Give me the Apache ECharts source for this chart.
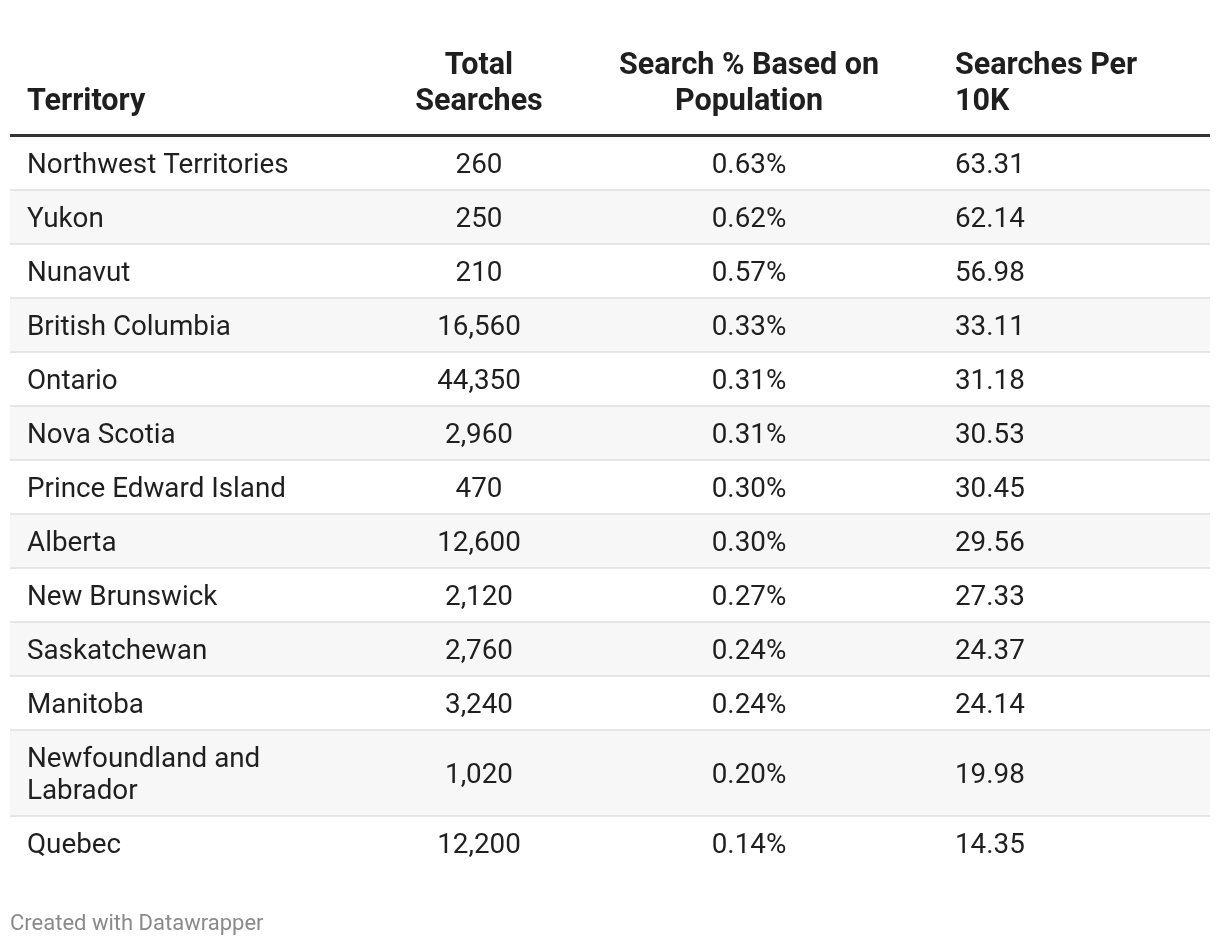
<!DOCTYPE html>
<html><head><meta charset="utf-8">
<script src="https://cdn.jsdelivr.net/npm/echarts@6/dist/echarts.min.js"></script>
<style>html,body{margin:0;padding:0;background:#fff}#main{width:1220px;height:946px}</style>
</head><body><div id="main"></div>
<script>
// ---------- DATA ----------
const territories = ['Northwest Territories','Yukon','Nunavut','British Columbia','Ontario','Nova Scotia','Prince Edward Island','Alberta','New Brunswick','Saskatchewan','Manitoba','Newfoundland and Labrador','Quebec'];
const totalSearches = [260,250,210,16560,44350,2960,470,12600,2120,2760,3240,1020,12200];
const searchPercent = [0.63,0.62,0.57,0.33,0.31,0.31,0.30,0.30,0.27,0.24,0.24,0.20,0.14];
const searchesPer10K = [63.31,62.14,56.98,33.11,31.18,30.53,30.45,29.56,27.33,24.37,24.14,19.98,14.35];
const columnHeaders = ['Territory','Total Searches','Search % Based on Population','Searches Per 10K'];
const footerText = 'Created with Datawrapper';

// ---------- LAYOUT / STYLE ----------
const FONT = 'Roboto, "Noto Sans", sans-serif';
const BODY_SIZE = 27.8, HEAD_SIZE = 30.5;
const LINE_H = 32, HEAD_LINE_H = 36, ROW_PAD = 22;
const TABLE_L = 10, TABLE_R = 1210;
// column anchors (x) and alignment, wrap widths
const cols = [
  {x: 27, align: 'left', wrap: 300},
  {x: 479, align: 'center', wrap: 150},
  {x: 749, align: 'center', wrap: 300},
  {x: 955, align: 'left', wrap: 210}
];

const mctx = document.createElement('canvas').getContext('2d');
function wrapText(text, font, maxW) {
  mctx.font = font;
  const words = text.split(' ');
  const lines = [];
  let cur = '';
  words.forEach(w => {
    const t = cur ? cur + ' ' + w : w;
    if (cur && mctx.measureText(t).width > maxW) { lines.push(cur); cur = w; }
    else cur = t;
  });
  if (cur) lines.push(cur);
  return lines;
}

const bodyFont = `${BODY_SIZE}px ${FONT}`;
const headFont = `bold ${HEAD_SIZE}px ${FONT}`;

const rowCells = territories.map((t, i) => [
  wrapText(t, bodyFont, cols[0].wrap),
  [totalSearches[i].toLocaleString('en-US')],
  [searchPercent[i].toFixed(2) + '%'],
  [searchesPer10K[i].toFixed(2)]
]);
const rowData = [];
let acc = 0;
rowCells.forEach((cells, i) => {
  const n = Math.max(...cells.map(c => c.length));
  const h = n * LINE_H + ROW_PAD;
  rowData.push([i, acc, acc + h]);
  acc += h;
});
const totalH = acc;
const headCells = columnHeaders.map((h, c) => wrapText(h, headFont, cols[c].wrap));

const GRID_TOP = 137;

const chart = echarts.init(document.getElementById('main'), null, {renderer: 'canvas'});
chart.setOption({
  animation: false,
  backgroundColor: '#ffffff',
  title: {
    text: footerText, left: 5, top: 908,
    textStyle: {fontFamily: FONT, fontSize: 22, fontWeight: 'normal', color: '#8a8a8a'}
  },
  grid: {left: 0, right: 0, top: GRID_TOP, height: totalH},
  xAxis: {type: 'value', min: 0, max: 1220, show: false},
  yAxis: {type: 'value', min: 0, max: totalH, inverse: true, show: false},
  series: [
    {
      type: 'custom', clip: false, silent: true,
      data: rowData,
      renderItem(params, api) {
        const i = api.value(0);
        const y0 = api.coord([0, api.value(1)])[1];
        const y1 = api.coord([0, api.value(2)])[1];
        const xL = api.coord([TABLE_L, 0])[0];
        const xR = api.coord([TABLE_R, 0])[0];
        const isLast = i === territories.length - 1;
        const children = [{
          type: 'rect', shape: {x: xL, y: y0, width: xR - xL, height: y1 - y0},
          style: {fill: i % 2 === 1 ? '#f7f7f7' : '#ffffff'}
        }];
        if (!isLast) children.push({
          type: 'rect', shape: {x: xL, y: y1 - 2, width: xR - xL, height: 2},
          style: {fill: '#e6e6e6'}
        });
        const cy = (y0 + y1 - 2) / 2 + 3.5;
        rowCells[i].forEach((lines, c) => {
          children.push({
            type: 'text', x: api.coord([cols[c].x, 0])[0], y: cy,
            style: {
              text: lines.join('\n'), fill: '#1f1f1f',
              font: bodyFont, lineHeight: LINE_H,
              align: cols[c].align, verticalAlign: 'middle'
            }
          });
        });
        return {type: 'group', children};
      }
    },
    {
      type: 'custom', clip: false, silent: true,
      data: [[0, 0]],
      renderItem(params, api) {
        const y = api.coord([0, 0])[1];
        const xL = api.coord([TABLE_L, 0])[0];
        const xR = api.coord([TABLE_R, 0])[0];
        const children = [{
          type: 'rect', shape: {x: xL, y: y - 3, width: xR - xL, height: 3},
          style: {fill: '#333333'}
        }];
        headCells.forEach((lines, c) => {
          children.push({
            type: 'text', x: api.coord([cols[c].x, 0])[0], y: y - 17,
            style: {
              text: lines.join('\n'), fill: '#1f1f1f',
              font: headFont, lineHeight: HEAD_LINE_H,
              align: cols[c].align, verticalAlign: 'bottom'
            }
          });
        });
        return {type: 'group', children};
      }
    }
  ]
});
</script></body></html>
